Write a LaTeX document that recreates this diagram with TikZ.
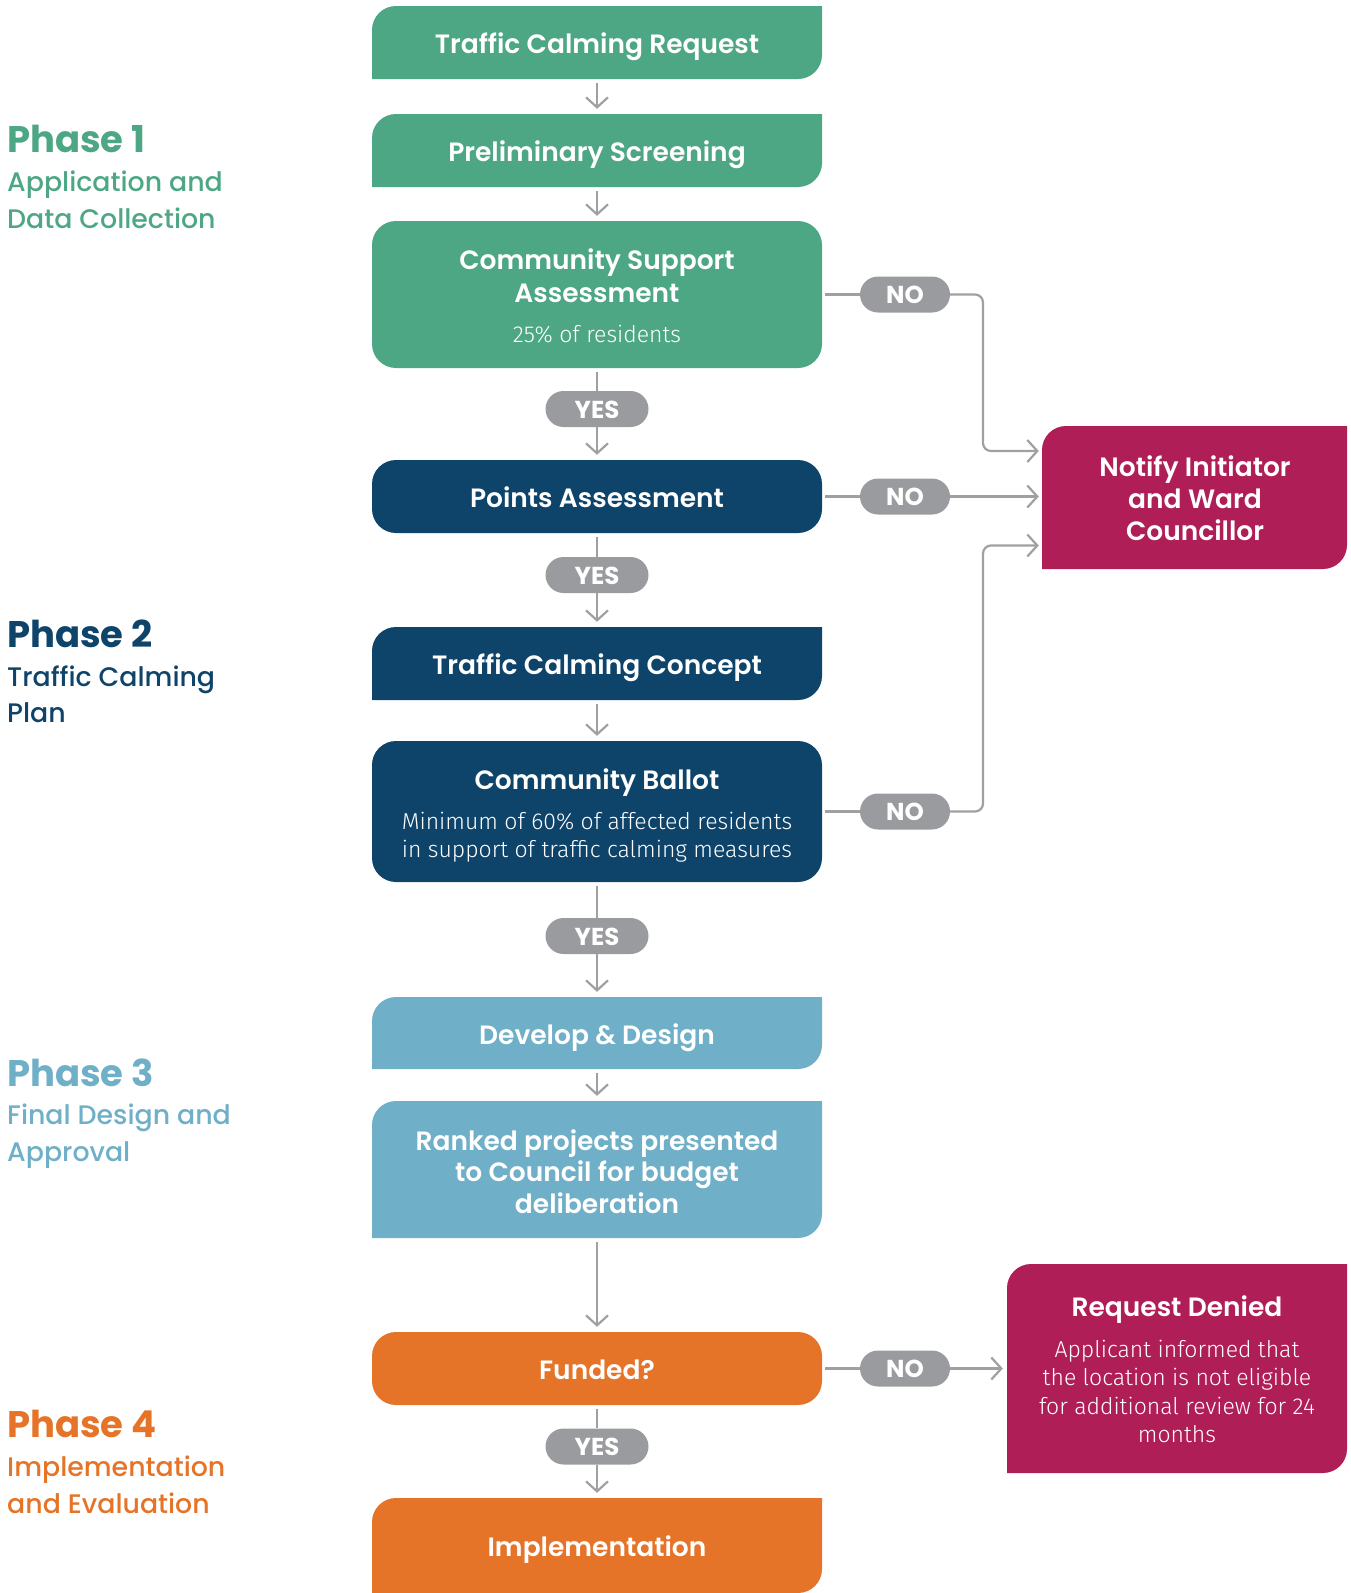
\documentclass[tikz,border=0pt]{standalone}
\usepackage{fontspec}
\setmainfont{Poppins}[BoldFont={Poppins SemiBold}]
\newfontfamily\popmed{Poppins Medium}
\newfontfamily\popbold{Poppins Bold}
\newfontfamily\lightf{Fira Sans Light}
\usetikzlibrary{arrows.meta}
\definecolor{cgreen}{HTML}{4EA784}
\definecolor{cdblue}{HTML}{0E436A}
\definecolor{clblue}{HTML}{6FAFC7}
\definecolor{corange}{HTML}{E57428}
\definecolor{cmag}{HTML}{AF1E57}
\definecolor{cpill}{HTML}{9A9B9E}
\definecolor{cline}{HTML}{A0A0A3}
\newcommand\titlef{\fontsize{26.5}{32}\selectfont\bfseries}
\newcommand\bodyf{\lightf\fontsize{23}{28}\selectfont}
\newcommand\pillf{\popbold\fontsize{24.5}{28}\selectfont}
\newcommand\phtf{\popbold\fontsize{37}{44}\selectfont}
\newcommand\phsf{\popmed\fontsize{26.8}{30}\selectfont}
\begin{document}
\begin{tikzpicture}[x=1pt,y=-1pt,
  box/.style={minimum width=450pt, inner sep=0pt, text=white, font=\titlef, text height=22pt, text depth=0pt},
  tlbr/.style={box, fill=white, path picture={
    \fill[#1] (path picture bounding box.south west) -- ([yshift=-24pt]path picture bounding box.north west)
      arc[start angle=180,end angle=90,radius=24pt] -- (path picture bounding box.north east)
      -- ([yshift=24pt]path picture bounding box.south east)
      arc[start angle=0,end angle=-90,radius=24pt] -- cycle;}},
  allr/.style={box, fill=#1, rounded corners=24pt},
  ttl/.style={anchor=base, text=white, font=\titlef, inner sep=0pt},
  bdy/.style={anchor=base, text=white, font=\bodyf, inner sep=0pt},
  pill/.style={fill=cpill, rounded corners=18pt, minimum height=36pt, inner sep=0pt, text=white, font=\pillf, text height=18.5pt, text depth=0pt},
  yes/.style={pill, minimum width=103pt},
  no/.style={pill, minimum width=90pt},
  ln/.style={draw=cline, line width=2.2pt},
  arr/.style={ln, -{Straight Barb[length=10pt,width=22pt]}, shorten >=5pt},
  pht/.style={anchor=base west, inner sep=0pt, font=\phtf, text=#1},
  phs/.style={anchor=base west, inner sep=0pt, font=\phsf, text=#1}
]
\useasboundingbox (0,0) rectangle (1351,1593);

% phase labels
\node[pht=cgreen] (p1) at (7,152) {Phase 1};
\node[phs=cgreen] (p1a) at (7,191) {Application and};
\node[phs=cgreen] (p1b) at (7,228) {Data Collection};
\node[pht=cdblue] (p2) at (7,647) {Phase 2};
\node[phs=cdblue] (p2a) at (7,686) {Traffic Calming};
\node[phs=cdblue] (p2b) at (7,722) {Plan};
\node[pht=clblue] (p3) at (7,1086) {Phase 3};
\node[phs=clblue] (p3a) at (7,1124) {Final Design and};
\node[phs=clblue] (p3b) at (7,1161) {Approval};
\node[pht=corange] (p4) at (7,1437) {Phase 4};
\node[phs=corange] (p4a) at (7,1476) {Implementation};
\node[phs=corange] (p4b) at (7,1513) {and Evaluation};

% main boxes
\node[tlbr=cgreen, minimum height=73pt] (tcr) at (597,42.5) {Traffic Calming Request};
\node[tlbr=cgreen, minimum height=73pt] (ps) at (597,150.5) {Preliminary Screening};
\node[allr=cgreen, minimum height=147pt] (csa) at (597,294.5) {};
\node[ttl] (csa1) at (597,269) {Community Support};
\node[ttl] (csa2) at (597,302) {Assessment};
\node[bdy] (csa3) at (597,342) {25\% of residents};
\node[allr=cdblue, minimum height=73pt] (pa) at (597,496.5) {Points Assessment};
\node[tlbr=cdblue, minimum height=73pt] (tcc) at (597,663.5) {Traffic Calming Concept};
\node[allr=cdblue, minimum height=141pt] (cb) at (597,811.5) {};
\node[ttl] (cb1) at (597,789) {Community Ballot};
\node[bdy] (cb2) at (597,829) {Minimum of 60\% of affected residents};
\node[bdy] (cb3) at (597,857.5) {in support of traffic calming measures};
\node[tlbr=clblue, minimum height=72pt] (dd) at (597,1033) {Develop \& Design};
\node[tlbr=clblue, minimum height=137pt] (rk) at (597,1169.5) {};
\node[ttl] (rk1) at (597,1150) {Ranked projects presented};
\node[ttl] (rk2) at (597,1181) {to Council for budget};
\node[ttl] (rk3) at (597,1213) {deliberation};
\node[allr=corange, minimum height=73pt] (fu) at (597,1368.5) {Funded?};
\node[tlbr=corange, minimum height=95pt] (im) at (597,1545.5) {Implementation};

% side boxes
\node[tlbr=cmag, minimum width=305pt, minimum height=143pt] (nt) at (1194.5,497.5) {};
\node[ttl] (nt1) at (1195,476) {Notify Initiator};
\node[ttl] (nt2) at (1195,508) {and Ward};
\node[ttl] (nt3) at (1195,540) {Councillor};
\node[tlbr=cmag, minimum width=340pt, minimum height=209pt] (dn) at (1177,1368.5) {};
\node[ttl] (dn1) at (1177,1316.5) {Request Denied};
\node[bdy] (dn2) at (1177,1357) {Applicant informed that};
\node[bdy] (dn3) at (1177,1385.5) {the location is not eligible};
\node[bdy] (dn4) at (1177,1414) {for additional review for 24};
\node[bdy] (dn5) at (1177,1442.5) {months};

% pills
\node[yes] (y1) at (597,409) {YES};
\node[yes] (y2) at (597,575) {YES};
\node[yes] (y3) at (597,936) {YES};
\node[yes] (y4) at (597,1446.5) {YES};
\node[no] (n1) at (905,294.5) {NO};
\node[no] (n2) at (905,496.5) {NO};
\node[no] (n3) at (905,811.5) {NO};
\node[no] (n4) at (905,1368.5) {NO};

\coordinate (j1) at (983,451);
\coordinate (j2) at (983,545.5);

% connectors
\draw[arr, shorten <=4pt] (tcr) -- (ps);
\draw[arr, shorten <=4pt] (ps) -- (csa);
\draw[ln, shorten <=4pt] (csa) -- (y1);
\draw[arr] (y1) -- (pa);
\draw[ln, shorten <=4pt] (pa) -- (y2);
\draw[arr] (y2) -- (tcc);
\draw[arr, shorten <=4pt] (tcc) -- (cb);
\draw[ln, shorten <=4pt] (cb) -- (y3);
\draw[arr] (y3) -- (dd);
\draw[arr, shorten <=4pt] (dd) -- (rk);
\draw[arr, shorten <=4pt] (rk) -- (fu);
\draw[ln, shorten <=4pt] (fu) -- (y4);
\draw[arr] (y4) -- (im);

\draw[ln, shorten <=3pt] (csa.east |- n1) -- (n1.west);
\draw[arr, rounded corners=8pt, shorten >=3pt] (n1.east) -| (j1) -- (j1 -| nt.west);
\draw[ln, shorten <=3pt] (pa.east |- n2) -- (n2.west);
\draw[arr, shorten >=3pt] (n2.east) -- (nt.west |- n2);
\draw[ln, shorten <=3pt] (cb.east |- n3) -- (n3.west);
\draw[arr, rounded corners=8pt, shorten >=3pt] (n3.east) -| (j2) -- (j2 -| nt.west);
\draw[ln, shorten <=3pt] (fu.east |- n4) -- (n4.west);
\draw[arr, shorten >=4pt] (n4.east) -- (dn.west |- n4);
\end{tikzpicture}
\end{document}
